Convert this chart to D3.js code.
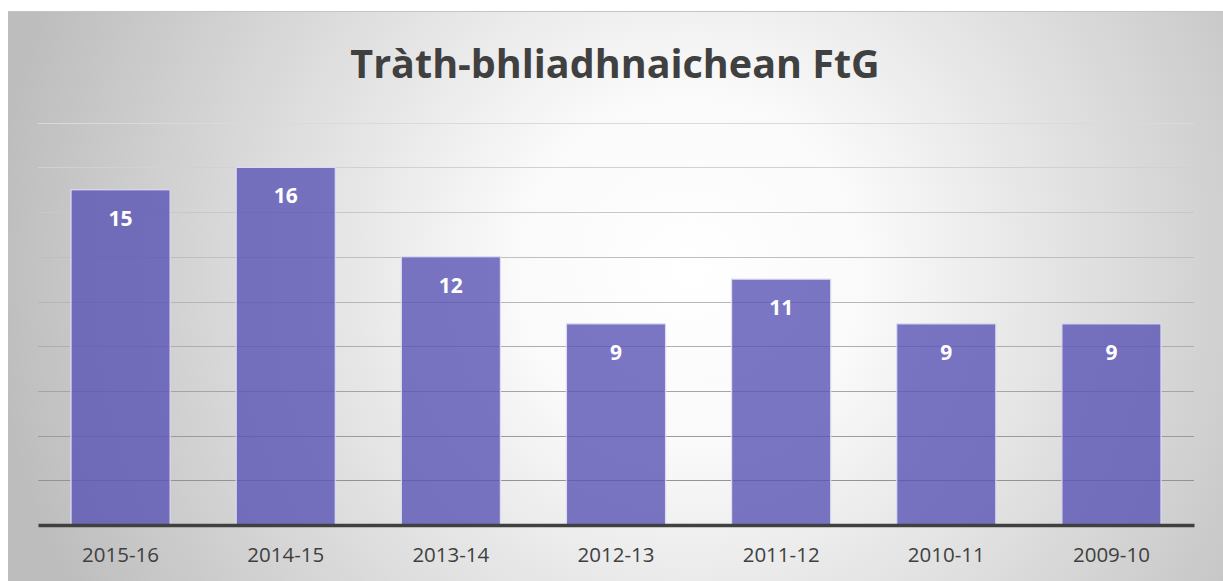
<!DOCTYPE html>
<html>
<head>
<meta charset="utf-8">
<script src="https://cdn.jsdelivr.net/npm/d3@7"></script>
<style>
  body { margin: 0; background: #fff; }
  text { font-family: "Open Sans", "Noto Sans", sans-serif; }
</style>
</head>
<body>
<div id="chart"></div>
<script>
// data
var seasons = ["2015-16", "2014-15", "2013-14", "2012-13", "2011-12", "2010-11", "2009-10"];
var counts = [15, 16, 12, 9, 11, 9, 9];
var gridValues = [2, 4, 6, 8, 10, 12, 14, 16, 18];
var chartTitle = "Tràth-bhliadhnaichean FtG";

var W = 1223, H = 581;
var frame = {x: 8, y: 11, w: W - 8, h: H - 11};
var margin = {top: 122.7, left: 38, right: 1194, bottom: 525};

var svg = d3.select("#chart").append("svg")
  .attr("width", W)
  .attr("height", H);

// radial background like the office chart style
var defs = svg.append("defs");
var grad = defs.append("radialGradient")
  .attr("id", "bg")
  .attr("gradientUnits", "userSpaceOnUse")
  .attr("cx", 690).attr("cy", 270).attr("r", 700);
grad.append("stop").attr("offset", "0%").attr("stop-color", "#ffffff");
grad.append("stop").attr("offset", "25%").attr("stop-color", "#fafafa");
grad.append("stop").attr("offset", "100%").attr("stop-color", "#bdbdbd");

svg.append("rect")
  .attr("x", frame.x).attr("y", frame.y)
  .attr("width", frame.w).attr("height", frame.h)
  .attr("fill", "url(#bg)");
svg.append("line")
  .attr("x1", frame.x).attr("x2", W)
  .attr("y1", frame.y + 0.5).attr("y2", frame.y + 0.5)
  .attr("stroke", "#c4c4c4");

// scales
var x = d3.scaleBand()
  .domain(seasons)
  .range([margin.left, margin.right])
  .paddingInner(0.4)
  .paddingOuter(0.2);

var y = d3.scaleLinear()
  .domain([0, 18])
  .range([margin.bottom, margin.top]);

var gridColor = d3.scaleLinear()
  .domain([0, 18])
  .range(["#8a8a8a", "#dadada"]);

// gridlines
svg.append("g")
  .selectAll("line")
  .data(gridValues)
  .enter()
  .append("line")
  .attr("x1", margin.left)
  .attr("x2", margin.right)
  .attr("y1", function(d) { return Math.round(y(d)) + 0.5; })
  .attr("y2", function(d) { return Math.round(y(d)) + 0.5; })
  .attr("stroke", function(d) { return gridColor(d); })
  .attr("stroke-width", 1.2);

// bars (semi transparent, gridlines show through)
svg.append("g")
  .selectAll("rect")
  .data(counts)
  .enter()
  .append("rect")
  .attr("x", function(d, i) { return x(seasons[i]); })
  .attr("y", function(d) { return y(d); })
  .attr("width", x.bandwidth())
  .attr("height", function(d) { return y(0) - y(d); })
  .attr("fill", "#5a54b5")
  .attr("fill-opacity", 0.8)
  .attr("stroke", "#dcdaf2")
  .attr("stroke-width", 1.2);

// value labels
svg.append("g")
  .selectAll("text")
  .data(counts)
  .enter()
  .append("text")
  .attr("x", function(d, i) { return x(seasons[i]) + x.bandwidth() / 2; })
  .attr("y", function(d) { return y(d) + 36; })
  .attr("text-anchor", "middle")
  .attr("fill", "#ffffff")
  .style("font-size", "21px")
  .style("font-weight", "bold")
  .text(function(d) { return d; });

// x axis
var xAxis = svg.append("g")
  .attr("transform", "translate(0," + margin.bottom + ")")
  .call(d3.axisBottom(x).tickSize(0).tickPadding(22));
xAxis.select(".domain")
  .attr("stroke", "#404040")
  .attr("stroke-width", 3.5);
xAxis.selectAll("text")
  .attr("fill", "#404040")
  .style("font-size", "20.5px")
  .style("font-family", "'Open Sans', 'Noto Sans', sans-serif");

// title
svg.append("text")
  .attr("x", 615)
  .attr("y", 78)
  .attr("text-anchor", "middle")
  .attr("fill", "#404040")
  .style("font-size", "39.5px")
  .style("font-weight", "bold")
  .text(chartTitle);
</script>
</body>
</html>
